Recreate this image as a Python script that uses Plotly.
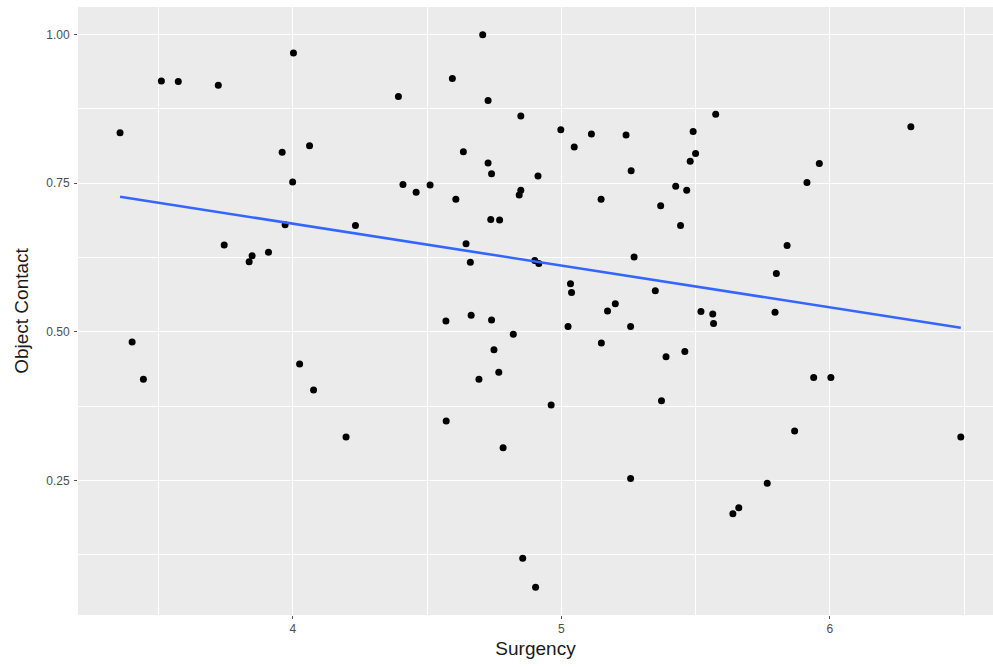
import numpy as np
import plotly.graph_objects as go

surgency = [3.356, 3.510, 3.573, 3.722, 4.002, 3.960, 4.062, 3.999, 3.971, 3.744,
            3.848, 3.837, 3.909, 3.401, 3.443, 4.025, 4.077, 4.707, 4.594, 4.393,
            4.727, 4.849, 4.998, 5.112, 5.241, 5.048, 4.635, 4.727, 4.740, 5.260,
            4.913, 4.410, 4.511, 4.459, 4.849, 4.843, 4.607, 5.148, 5.370, 4.737,
            4.770, 4.233, 4.645, 4.661, 4.901, 4.916, 5.271, 5.034, 5.038, 5.350,
            5.201, 5.172, 4.664, 4.570, 4.740, 5.025, 5.258, 4.821, 5.149, 4.749,
            4.767, 4.693, 4.962, 5.373, 4.571, 4.198, 4.783, 5.258, 4.856, 4.904,
            5.575, 5.491, 5.500, 5.480, 5.961, 5.915, 5.426, 5.467, 6.302, 5.444,
            5.841, 5.801, 5.520, 5.564, 5.567, 5.796, 5.390, 5.460, 5.940, 6.004,
            5.869, 6.488, 5.767, 5.661, 5.639]
object_contact = [0.835, 0.922, 0.921, 0.915, 0.969, 0.802, 0.813, 0.752, 0.680, 0.646,
                  0.628, 0.618, 0.634, 0.483, 0.420, 0.446, 0.402, 1.000, 0.926, 0.896,
                  0.889, 0.863, 0.840, 0.833, 0.831, 0.811, 0.803, 0.784, 0.766, 0.771,
                  0.762, 0.748, 0.747, 0.735, 0.738, 0.730, 0.723, 0.723, 0.712, 0.689,
                  0.688, 0.679, 0.648, 0.617, 0.620, 0.615, 0.626, 0.581, 0.566, 0.569,
                  0.547, 0.535, 0.528, 0.518, 0.520, 0.509, 0.509, 0.496, 0.481, 0.470,
                  0.432, 0.420, 0.377, 0.384, 0.350, 0.323, 0.305, 0.253, 0.119, 0.070,
                  0.866, 0.837, 0.800, 0.787, 0.783, 0.751, 0.745, 0.738, 0.845, 0.679,
                  0.645, 0.598, 0.534, 0.530, 0.514, 0.533, 0.458, 0.467, 0.423, 0.423,
                  0.333, 0.323, 0.245, 0.204, 0.194]

x_ticks = [4, 5, 6]
x_minor = [3.5, 4.5, 5.5, 6.5]
y_ticks = [0.25, 0.50, 0.75, 1.00]
y_tick_labels = ["0.25", "0.50", "0.75", "1.00"]
y_minor = [0.125, 0.375, 0.625, 0.875]

xs = np.array(surgency)
ys = np.array(object_contact)
slope, intercept = np.polyfit(xs, ys, 1)
line_x = np.linspace(xs.min(), xs.max(), 80)
line_y = slope * line_x + intercept

xr = xs.max() - xs.min()
yr = ys.max() - ys.min()
x_range = [xs.min() - 0.05 * xr, xs.max() + 0.05 * xr]
y_range = [ys.min() - 0.05 * yr, ys.max() + 0.05 * yr]

fig = go.Figure()
fig.add_trace(go.Scatter(x=surgency, y=object_contact, mode="markers",
                         marker=dict(color="black", size=7, line=dict(width=0)),
                         showlegend=False, hoverinfo="x+y"))
fig.add_trace(go.Scatter(x=line_x, y=line_y, mode="lines",
                         line=dict(color="#3366FF", width=2.6),
                         showlegend=False, hoverinfo="skip"))

fig.update_layout(
    width=993, height=667,
    margin=dict(l=78, r=0, t=7, b=52, autoexpand=False),
    paper_bgcolor="white",
    plot_bgcolor="#EBEBEB",
    font=dict(family="Liberation Sans, Arial, sans-serif"),
    xaxis=dict(
        range=[x_range[0], 6.608], automargin=False,
        tickvals=x_ticks, ticktext=[str(v) for v in x_ticks],
        showgrid=True, gridcolor="white", gridwidth=1.4,
        minor=dict(tickvals=x_minor, showgrid=True, gridcolor="white", gridwidth=0.7, ticks=""),
        zeroline=False, showline=False,
        ticks="outside", ticklen=3, tickwidth=1, tickcolor="#555555",
        tickfont=dict(size=12, color="#4D4D4D"),
        title=dict(text="Surgency", font=dict(size=19, color="#1a1a1a"), standoff=6),
    ),
    yaxis=dict(
        range=y_range, automargin=False,
        tickvals=y_ticks, ticktext=y_tick_labels,
        showgrid=True, gridcolor="white", gridwidth=1.4,
        minor=dict(tickvals=y_minor, showgrid=True, gridcolor="white", gridwidth=0.7, ticks=""),
        zeroline=False, showline=False,
        ticks="outside", ticklen=3, tickwidth=1, tickcolor="#555555",
        tickfont=dict(size=12, color="#4D4D4D"),
        ticklabelstandoff=2,
        title=dict(text="Object Contact", font=dict(size=19, color="#1a1a1a"), standoff=12),
    ),
)

fig.write_html("out.html",
               config={"displayModeBar": False},
               post_script="document.body.style.margin='0';document.body.style.overflow='hidden';")
